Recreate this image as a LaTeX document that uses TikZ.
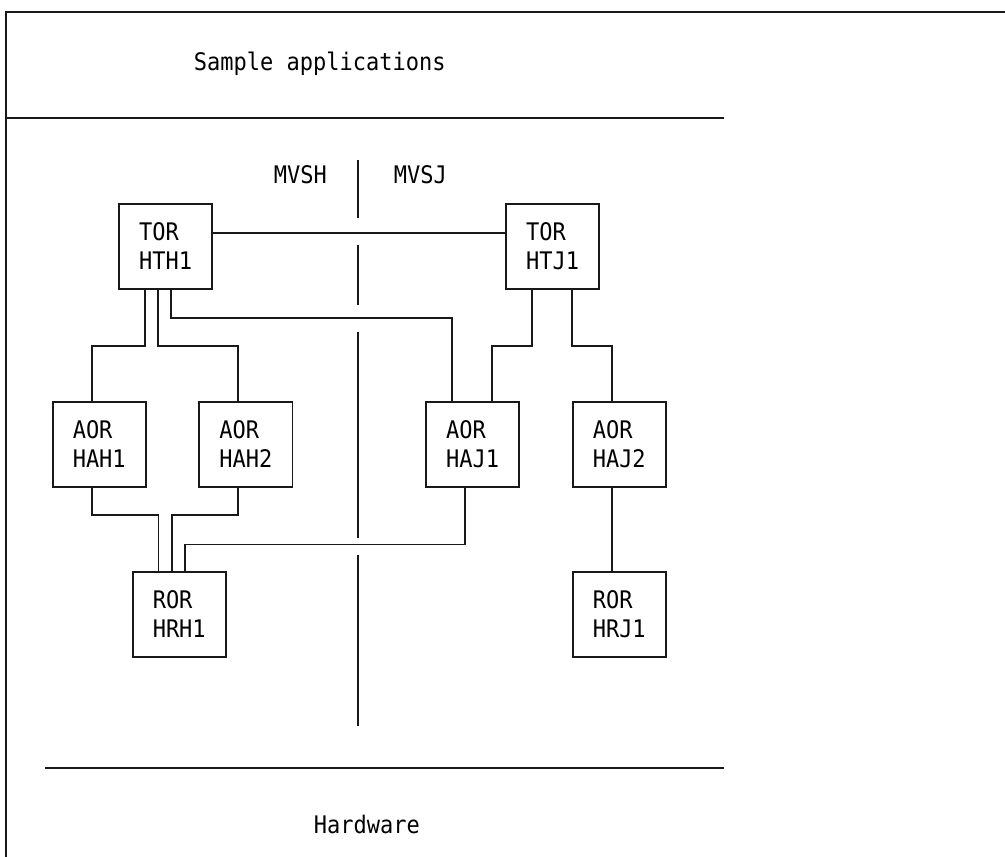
\documentclass[tikz,border=0pt]{standalone}
\usepackage{graphicx}
\usepackage{fontspec}
\setmonofont{DejaVu Sans Mono}
\newcommand{\tallglyphs}[1]{\scalebox{1}[1.1]{#1}}
\begin{document}
\begin{tikzpicture}[x=1pt, y=-1pt, line width=1.8pt, draw=black!90,
  every node/.style={font=\ttfamily\fontsize{22}{28.3}\selectfont, inner sep=0pt, text=black},
  region/.style={draw, rectangle, minimum width=93.3pt, minimum height=85pt,
                 anchor=north west, align=left},
  caption/.style={anchor=base west},
  rule/.style={line width=1.6pt}]
  \useasboundingbox (0,0) rectangle (1005,857);

  % open frame and layer separators
  \draw[rule] (6,857) -- (6,12) -- (1005,12);
  \draw[rule] (6,118) -- (724,118);
  \draw[rule] (45,768) -- (724,768);
  \node[caption] (apps) at (193,70) {\tallglyphs{Sample applications}};
  \node[caption] (hw)   at (313,833) {\tallglyphs{Hardware}};

  % system boundary between the two MVS images
  \node[caption] (mvsh) at (273,183) {\tallglyphs{MVSH}};
  \node[caption] (mvsj) at (393,183) {\tallglyphs{MVSJ}};
  \draw (358.3,160) -- (358.3,218);
  \draw (358.3,245) -- (358.3,305);
  \draw (358.3,332) -- (358.3,538);
  \draw (358.3,555) -- (358.3,726);

  % CICS regions
  \node[region] (HTH1) at (118,202.7)   {\tallglyphs{TOR}\\\tallglyphs{HTH1}};
  \node[region] (HTJ1) at (505,202.7)   {\tallglyphs{TOR}\\\tallglyphs{HTJ1}};
  \node[region] (HAH1) at (51.7,400.7)  {\tallglyphs{AOR}\\\tallglyphs{HAH1}};
  \node[region] (HAH2) at (198.3,400.7) {\tallglyphs{AOR}\\\tallglyphs{HAH2}};
  \node[region] (HAJ1) at (425,400.7)   {\tallglyphs{AOR}\\\tallglyphs{HAJ1}};
  \node[region] (HAJ2) at (571.7,400.7) {\tallglyphs{AOR}\\\tallglyphs{HAJ2}};
  \node[region] (HRH1) at (131.7,570.7) {\tallglyphs{ROR}\\\tallglyphs{HRH1}};
  \node[region] (HRJ1) at (571.7,570.7) {\tallglyphs{ROR}\\\tallglyphs{HRJ1}};

  % TOR to TOR
  \draw ([yshift=13.3pt]HTH1.east) -- ([yshift=13.3pt]HTJ1.west);
  % TOR to AORs
  \draw ([xshift=26.7pt]HTH1.south west) -- ++(0,56.7) -| ([xshift=40pt]HAH1.north west);
  \draw ([xshift=40pt]HTH1.south west)   -- ++(0,56.7) -| ([xshift=40pt]HAH2.north west);
  \draw ([xshift=53.3pt]HTH1.south west) -- ++(0,28.4) -| ([xshift=26.7pt]HAJ1.north west);
  \draw ([xshift=26.7pt]HTJ1.south west) -- ++(0,56.7) -| ([xshift=66.7pt]HAJ1.north west);
  \draw ([xshift=66.7pt]HTJ1.south west) -- ++(0,56.7) -| ([xshift=40pt]HAJ2.north west);
  % AORs to RORs
  \draw ([xshift=40pt]HAH1.south west) -- ++(0,27.6) -| ([xshift=26.7pt]HRH1.north west);
  \draw ([xshift=40pt]HAH2.south west) -- ++(0,27.6) -| ([xshift=40pt]HRH1.north west);
  \draw ([xshift=40pt]HAJ1.south west) -- ++(0,57)   -| ([xshift=53.3pt]HRH1.north west);
  \draw ([xshift=40pt]HAJ2.south west) -- ([xshift=40pt]HRJ1.north west);
\end{tikzpicture}
\end{document}
